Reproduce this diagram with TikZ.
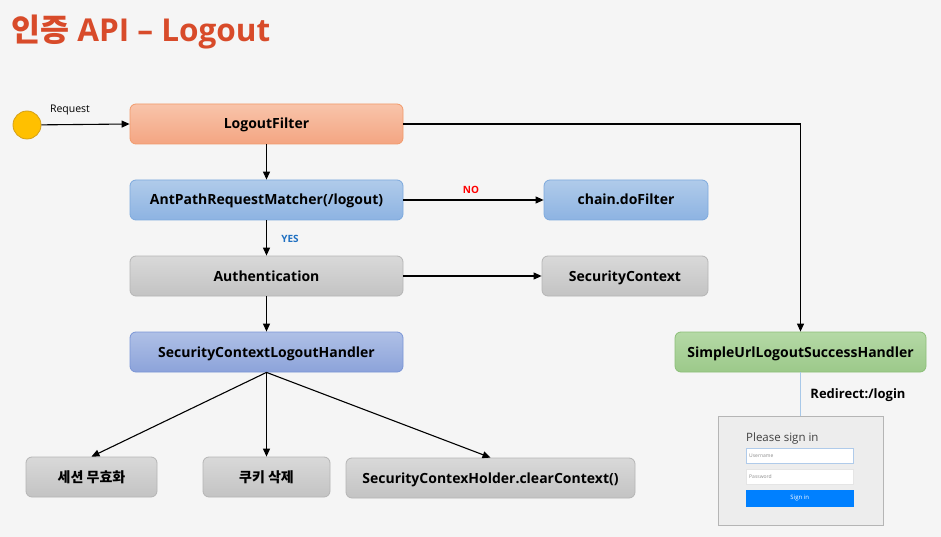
\documentclass[tikz,border=0pt]{standalone}
\usepackage{fontspec}
\setmainfont{Open Sans}
\newfontfamily\kr{Noto Sans CJK KR}
\usetikzlibrary{arrows.meta}
\definecolor{bgc}{HTML}{F5F5F5}
\definecolor{titlec}{HTML}{D84B2A}
\definecolor{orT}{HTML}{F8C4AA}
\definecolor{orBo}{HTML}{F4A582}
\definecolor{orD}{HTML}{F19A6B}
\definecolor{blT}{HTML}{B0CBEA}
\definecolor{blBo}{HTML}{8DB3E2}
\definecolor{blD}{HTML}{7DA9DD}
\definecolor{grT}{HTML}{D9D9D9}
\definecolor{grBo}{HTML}{C3C3C3}
\definecolor{grD}{HTML}{B5B5B5}
\definecolor{puT}{HTML}{AFC0E6}
\definecolor{puBo}{HTML}{8CA3DA}
\definecolor{puD}{HTML}{7A95D6}
\definecolor{gnT}{HTML}{B5D9A6}
\definecolor{gnBo}{HTML}{9CC98A}
\definecolor{gnD}{HTML}{8CBF78}
\definecolor{circF}{HTML}{FFC000}
\definecolor{circD}{HTML}{D4A017}
\definecolor{yesc}{HTML}{1F70C1}
\definecolor{linkc}{HTML}{A8C8E8}
\definecolor{btnc}{HTML}{0080FF}
\begin{document}
\begin{tikzpicture}[x=1pt,y=-1pt,
  box/.style={draw, rounded corners=6pt, minimum height=40pt, inner sep=0pt,
    text height=10pt, text depth=0pt,
    font=\bfseries\fontsize{14}{16}\selectfont, text=black, line width=0.8pt},
  orbox/.style={box, draw=orD, top color=orT, bottom color=orBo},
  blbox/.style={box, draw=blD, top color=blT, bottom color=blBo},
  grbox/.style={box, draw=grD, top color=grT, bottom color=grBo},
  pubox/.style={box, draw=puD, top color=puT, bottom color=puBo},
  gnbox/.style={box, draw=gnD, top color=gnT, bottom color=gnBo},
  arr/.style={-{Triangle[length=8pt,width=7pt]}, line width=1.1pt},
  lbl/.style={font=\fontsize{10.5}{12}\selectfont, inner sep=0pt},
  field/.style={draw=#1, fill=white, minimum width=107pt, minimum height=15pt, inner sep=0pt, line width=0.5pt},
]
\useasboundingbox[fill=bgc] (0,0) rectangle (941,537);

% title
\node[anchor=west, inner sep=0pt, text=titlec, font=\bfseries\fontsize{31.5}{34}\selectfont] (title) at (11,32) {{\kr 인증} API – Logout};

% start
\node[circle, draw=circD, fill=circF, minimum size=28pt, inner sep=0pt, line width=0.8pt] (start) at (27,125) {};
\node[lbl] (req) at (70,110) {Request};

% main column
\node[orbox, minimum width=273pt] (lf) at (266.5,124) {LogoutFilter};
\node[blbox, minimum width=273pt] (ant) at (266.5,200) {AntPathRequestMatcher(/logout)};
\node[blbox, minimum width=164pt] (chain) at (626,200) {chain.doFilter};
\node[grbox, minimum width=273pt] (auth) at (266.5,276) {Authentication};
\node[grbox, minimum width=166pt] (sc) at (625,276) {SecurityContext};
\node[pubox, minimum width=273pt] (sclh) at (266.5,352) {SecurityContextLogoutHandler};
\node[gnbox, minimum width=251pt] (su) at (800.5,352) {SimpleUrlLogoutSuccessHandler};

% bottom
\node[grbox, minimum width=131pt] (s1) at (91.5,477) {\kr 세션 무효화};
\node[grbox, minimum width=127pt] (s2) at (266.5,477) {\kr 쿠키 삭제};
\node[grbox, minimum width=289pt] (s3) at (490.5,478) {SecurityContexHolder.clearContext()};

% labels
\node[lbl, text=red, font=\bfseries\fontsize{10}{11}\selectfont] (no) at (471,190) {NO};
\node[lbl, text=yesc, font=\bfseries\fontsize{10}{11}\selectfont] (yes) at (290,239) {YES};
\node[inner sep=0pt, font=\bfseries\fontsize{13}{15}\selectfont] (redir) at (858,395) {Redirect:/login};

% login page
\node[draw=grD, fill=black!7, minimum width=165pt, minimum height=109pt, inner sep=0pt, line width=0.7pt] (login) at (800.5,470.5) {};
\node[anchor=west, inner sep=0pt, text=black!75, font=\fontsize{11.5}{13}\selectfont] (please) at (746,439) {Please sign in};
\node[field=blT, anchor=north west] (user) at (746,448) {};
\node[anchor=west, inner sep=0pt, text=black!45, font=\fontsize{5}{6}\selectfont] (usert) at (749,455.5) {Username};
\node[field=black!10, anchor=north west] (pass) at (746,469) {};
\node[anchor=west, inner sep=0pt, text=black!45, font=\fontsize{5}{6}\selectfont] (passt) at (749,476.5) {Password};
\node[draw=btnc, fill=btnc, anchor=north west, minimum width=107pt, minimum height=16pt, inner sep=0pt, text=white, font=\fontsize{6}{7}\selectfont] (btn) at (746,490) {Sign in};

% connectors
\draw[arr] (start) -- (lf.west);
\draw[arr] (lf.south) -- (ant.north);
\draw[arr] (ant.east) -- (chain.west);
\draw[arr] (ant.south) -- (auth.north);
\draw[arr] (auth.east) -- (sc.west);
\draw[arr] (auth.south) -- (sclh.north);
\draw[arr] (lf.east) -| (su.north);
\draw[linkc, line width=1.2pt] (su.south) -- (login.north);
\draw[arr] (sclh.south) -- (s1.north);
\draw[arr] (sclh.south) -- (s2.north);
\draw[arr] (sclh.south) -- (s3.north);
\end{tikzpicture}
\end{document}
